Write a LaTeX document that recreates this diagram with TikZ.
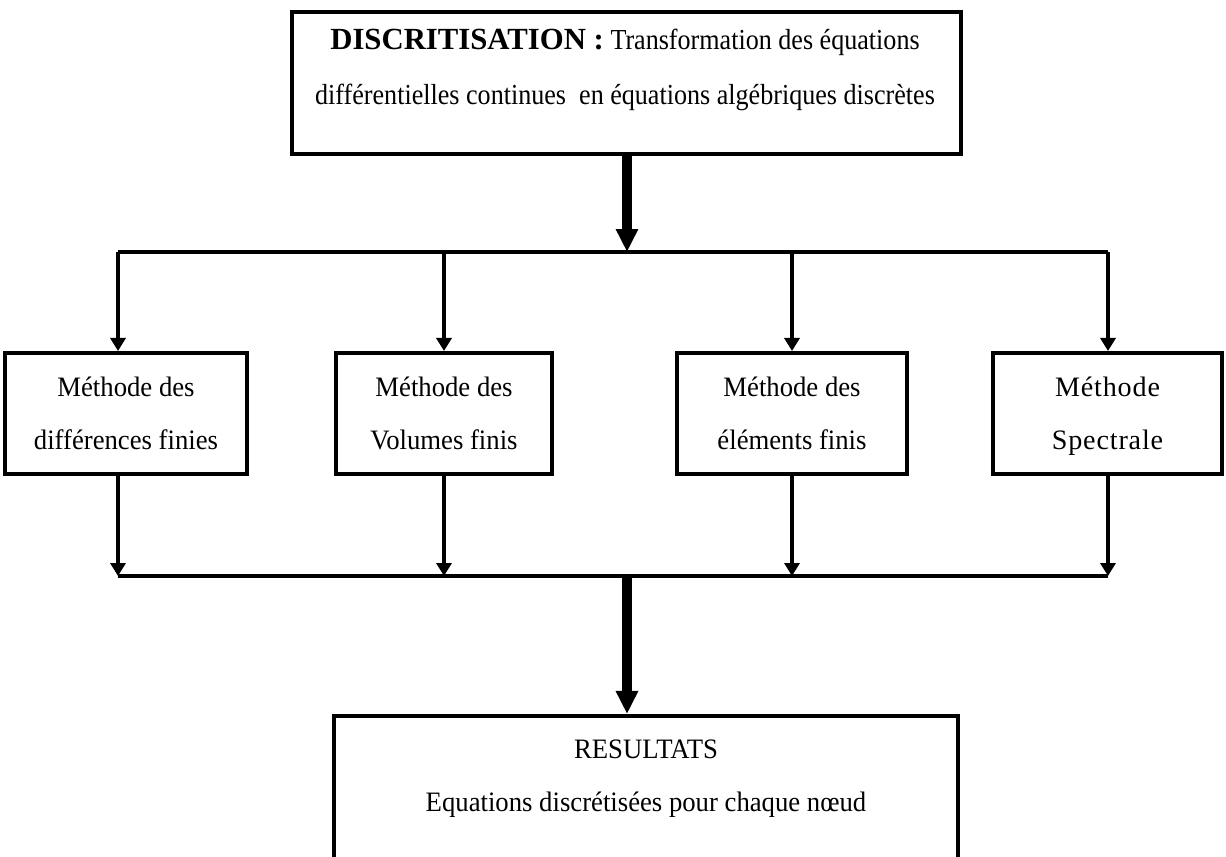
\documentclass[tikz,border=0pt]{standalone}
\usepackage{fontspec}
\setmainfont{Liberation Serif}
\newfontfamily\widefont[LetterSpace=3]{Liberation Serif}
\newfontfamily\condfont[FakeStretch=0.9]{Liberation Serif}
\newfontfamily\medfont[FakeStretch=0.95]{Liberation Serif}
\usetikzlibrary{arrows.meta}
\begin{document}
\begin{tikzpicture}[x=0.02cm,y=-0.02cm,
  box/.style={draw,line width=2.3pt,inner sep=0pt},
  txt/.style={align=center,font=\medfont\fontsize{16}{30}\selectfont,inner sep=0pt},
  thin/.style={line width=2pt,-{Triangle[width=0.3cm,length=0.26cm]}},
  bus/.style={line width=2.2pt},
  thick/.style={line width=5.8pt,-{Triangle[width=0.42cm,length=0.46cm]}}]
\useasboundingbox (0,0) rectangle (1226,856);
% top box
\node[box,minimum width=669*0.02cm,minimum height=142*0.02cm] (top) at (626.5,83) {};
\node[txt,font=\condfont\fontsize{16.5}{31}\selectfont] (toptxt) at (625,70)
  {{\normalfont\bfseries\fontsize{17.5}{31}\selectfont DISCRITISATION :} Transformation des équations\\
   différentielles continues\ \ en équations algébriques discrètes};
% method boxes
\node[box,txt,minimum width=242*0.02cm,minimum height=121*0.02cm] (m1) at (126,413.5)
  {Méthode des\\différences finies};
\node[box,txt,minimum width=216*0.02cm,minimum height=121*0.02cm] (m2) at (444,413.5)
  {Méthode des\\Volumes finis};
\node[box,txt,minimum width=230*0.02cm,minimum height=121*0.02cm] (m3) at (792,413.5)
  {Méthode des\\éléments finis};
\node[box,txt,font=\widefont\fontsize{16}{30}\selectfont,minimum width=229*0.02cm,minimum height=121*0.02cm] (m4) at (1107.5,413.5)
  {Méthode\\\smash{Spectrale}};
% result box (bottom edge falls outside the picture)
\node[box,minimum width=624*0.02cm,minimum height=164*0.02cm] (res) at (646,798) {};
\node[txt] (restxt) at (646,778.5) {RESULTATS\\Equations discrétisées pour chaque nœud};
% bus coordinates
\coordinate (t0) at (118,252);
\coordinate (t1) at (444,252);
\coordinate (tc) at (627,252);
\coordinate (t2) at (792,252);
\coordinate (t3) at (1108,252);
\coordinate (b0) at (118,576);
\coordinate (b1) at (444,576);
\coordinate (bc) at (627,576);
\coordinate (b2) at (792,576);
\coordinate (b3) at (1108,576);
\draw[thick] (top.south -| tc) -- (tc);
\draw[bus] (t0) -- (t3);
\draw[thin] (t0) -- (t0 |- m1.north);
\draw[thin] (t1) -- (t1 |- m2.north);
\draw[thin] (t2) -- (t2 |- m3.north);
\draw[thin] (t3) -- (t3 |- m4.north);
\draw[thin] (b0 |- m1.south) -- (b0);
\draw[thin] (b1 |- m2.south) -- (b1);
\draw[thin] (b2 |- m3.south) -- (b2);
\draw[thin] (b3 |- m4.south) -- (b3);
\draw[bus] (b0) -- (b3);
\draw[thick] (bc) -- (bc |- res.north);
\end{tikzpicture}
\end{document}
